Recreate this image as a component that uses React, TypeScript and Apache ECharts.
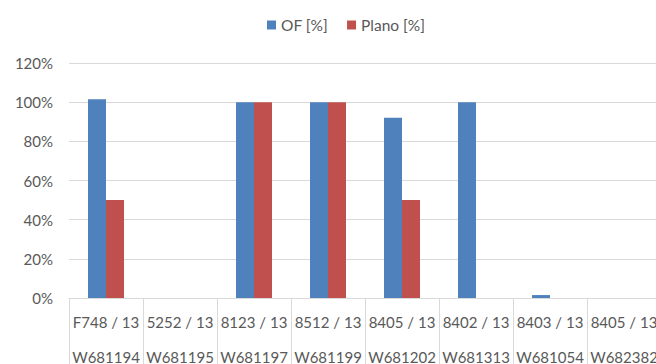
import React, { useEffect, useRef } from "react";
import * as echarts from "echarts";

const categories = [
  "F748 / 13\nW681194",
  "5252 / 13\nW681195",
  "8123 / 13\nW681197",
  "8512 / 13\nW681199",
  "8405 / 13\nW681202",
  "8402 / 13\nW681313",
  "8403 / 13\nW681054",
  "8405 / 13\nW682382",
];
const ofValues = [101.5, 0, 100, 100, 92, 100, 1.5, 0];
const planoValues = [50, 0, 100, 100, 50, 0, 0, 0];
const yTicks = [0, 20, 40, 60, 80, 100, 120];

export default function App() {
  const ref = useRef<HTMLDivElement>(null);

  useEffect(() => {
    if (!ref.current) return;
    const chart = echarts.init(ref.current, undefined, { renderer: "svg" });
    const font = "Lato, 'Open Sans', sans-serif";
    chart.setOption({
      animation: false,
      backgroundColor: "#ffffff",
      textStyle: { fontFamily: font },
      legend: {
        top: 12,
        left: 262,
        itemWidth: 9,
        itemHeight: 9,
        itemGap: 19,
        icon: "rect",
        textStyle: { color: "#595959", fontSize: 15.5, fontFamily: font },
        data: ["OF [%]", "Plano [%]"],
      },
      grid: {
        left: 69,
        right: 39,
        top: 63,
        bottom: 66,
        containLabel: false,
        outerBoundsMode: "none",
      },
      xAxis: {
        type: "category",
        data: categories,
        axisLine: { lineStyle: { color: "#d9d9d9", width: 1 } },
        axisTick: {
          show: true,
          length: 70,
          lineStyle: { color: "#d9d9d9", width: 1 },
        },
        axisLabel: {
          color: "#595959",
          fontSize: 15,
          fontFamily: font,
          lineHeight: 35,
          margin: 6,
          interval: 0,
        },
      },
      yAxis: {
        type: "value",
        min: yTicks[0],
        max: yTicks[yTicks.length - 1],
        interval: 20,
        axisLine: { show: false },
        axisTick: { show: false },
        splitLine: { lineStyle: { color: "#d9d9d9", width: 1 } },
        axisLabel: {
          color: "#595959",
          fontSize: 15,
          fontFamily: font,
          margin: 16,
          formatter: "{value}%",
        },
      },
      series: [
        {
          name: "OF [%]",
          type: "bar",
          data: ofValues,
          barWidth: 18,
          barGap: "0%",
          itemStyle: { color: "#4f81bd" },
        },
        {
          name: "Plano [%]",
          type: "bar",
          data: planoValues,
          barWidth: 18,
          barGap: "0%",
          itemStyle: { color: "#c0504d" },
        },
      ],
    });
    return () => chart.dispose();
  }, []);

  return (
    <div
      style={{
        position: "absolute",
        left: 0,
        top: 0,
        width: 656,
        height: 364,
        overflow: "hidden",
        background: "#ffffff",
      }}
    >
      <div ref={ref} style={{ width: 700, height: 364 }} />
    </div>
  );
}
